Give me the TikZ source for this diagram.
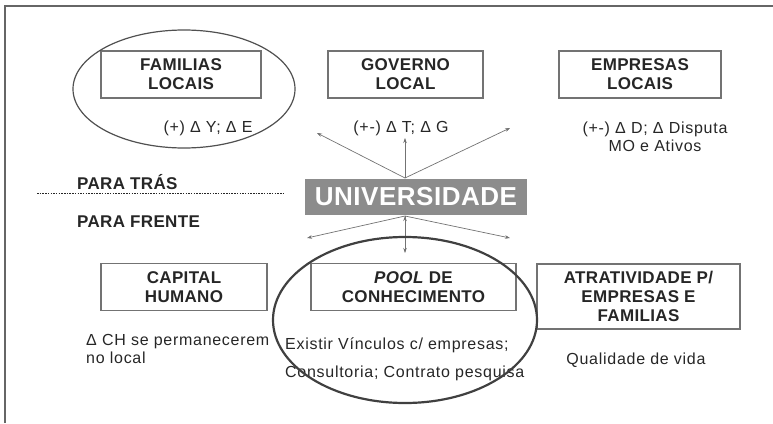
\documentclass[tikz,border=0pt]{standalone}
\usepackage{fontspec}
\setmainfont{Liberation Sans}
\newfontfamily\notefont[LetterSpace=4.5]{Liberation Sans}
\newfontfamily\boxfont[LetterSpace=2]{Liberation Sans}
\usetikzlibrary{arrows.meta}
\definecolor{linegray}{gray}{0.45}
\definecolor{txtgray}{gray}{0.15}
\tikzstyle{box}=[rectangle,draw=linegray,line width=1.3pt,minimum height=47pt,inner sep=0pt,align=center,text=txtgray,font=\boxfont\fontsize{17}{19}\selectfont\bfseries]
\tikzstyle{note}=[inner sep=0pt,text=txtgray,font=\notefont\fontsize{16}{18}\selectfont]
\tikzstyle{arr}=[draw=linegray,line width=0.7pt,-{Stealth[length=5pt,width=3.5pt]}]

\begin{document}
\begin{tikzpicture}[x=1pt,y=-1pt]
        \useasboundingbox (0,0) rectangle (773,423);
        \draw[gray!80!black,line width=2pt] (5,423) -- (5,6) -- (773,6);
        % upper row
        \draw (181,74.5)   node[box,minimum width=160pt](fam){FAMILIAS\\LOCAIS};
        \draw (405.5,74.5) node[box,minimum width=155pt](gov){GOVERNO\\LOCAL};
        \draw (640,74.5)   node[box,minimum width=162pt](emp){EMPRESAS\\LOCAIS};
        \draw (208,128) node[note](famtxt){(+) Δ Y; Δ E};
        \draw (401,128) node[note](govtxt){(+-) Δ T; Δ G};
        \draw (655,137) node[note,align=center](emptxt){(+-) Δ D; Δ Disputa\\MO e Ativos};
        \draw[linegray!70!black,line width=1.2pt] (184,89) ellipse [x radius=111pt,y radius=59pt];
        % centre
        \draw (416,197) node[fill=gray!90,minimum width=222pt,minimum height=36pt,inner sep=0pt,text=white,font=\boxfont\fontsize{26}{28}\selectfont\bfseries](univ){UNIVERSIDADE};
        \draw (77,182) node[note,anchor=west,font=\boxfont\fontsize{17}{19}\selectfont\bfseries](tras){PARA TRÁS};
        \draw (77,222) node[note,anchor=west,font=\boxfont\fontsize{17}{19}\selectfont\bfseries](frente){PARA FRENTE};
        \draw[txtgray,line width=0.8pt,dash pattern=on 1.5pt off 1.2pt] (37,193) -- (285,193);
        \coordinate (utop) at (405,178);
        \coordinate (ubot) at (405,216);
        \coordinate (tl) at (317,133);
        \coordinate (tu) at (405,138);
        \coordinate (tr) at (510,128);
        \coordinate (bl) at (307,238);
        \coordinate (bd) at (405,253);
        \coordinate (br) at (510,238);
        \path[arr]
            (utop) edge (tl)
            (utop) edge (tu)
            (utop) edge (tr)
            (ubot) edge (bl)
            (ubot) edge (bd)
            (ubot) edge (br);
        % lower row
        \draw (184,287)   node[box,minimum width=166pt](cap){CAPITAL\\HUMANO};
        \draw (413.5,287) node[box,minimum width=205pt](pool){\textit{POOL} DE\\CONHECIMENTO};
        \draw (638.5,296.5) node[box,minimum width=203pt,minimum height=65pt](atr){ATRATIVIDADE P/\\EMPRESAS E\\FAMILIAS};
        \draw (86,349) node[note,anchor=west,align=left](captxt){Δ CH se permanecerem\\no local};
        \draw (285,359) node[note,anchor=west,align=left](pooltxt){Existir Vínculos c/ empresas;\\[10pt]Consultoria; Contrato pesquisa};
        \draw (636,360) node[note](atrtxt){Qualidade de vida};
        \draw[black!75,line width=2.2pt] (405,320) ellipse [x radius=132pt,y radius=83pt];
\end{tikzpicture}
\end{document}
